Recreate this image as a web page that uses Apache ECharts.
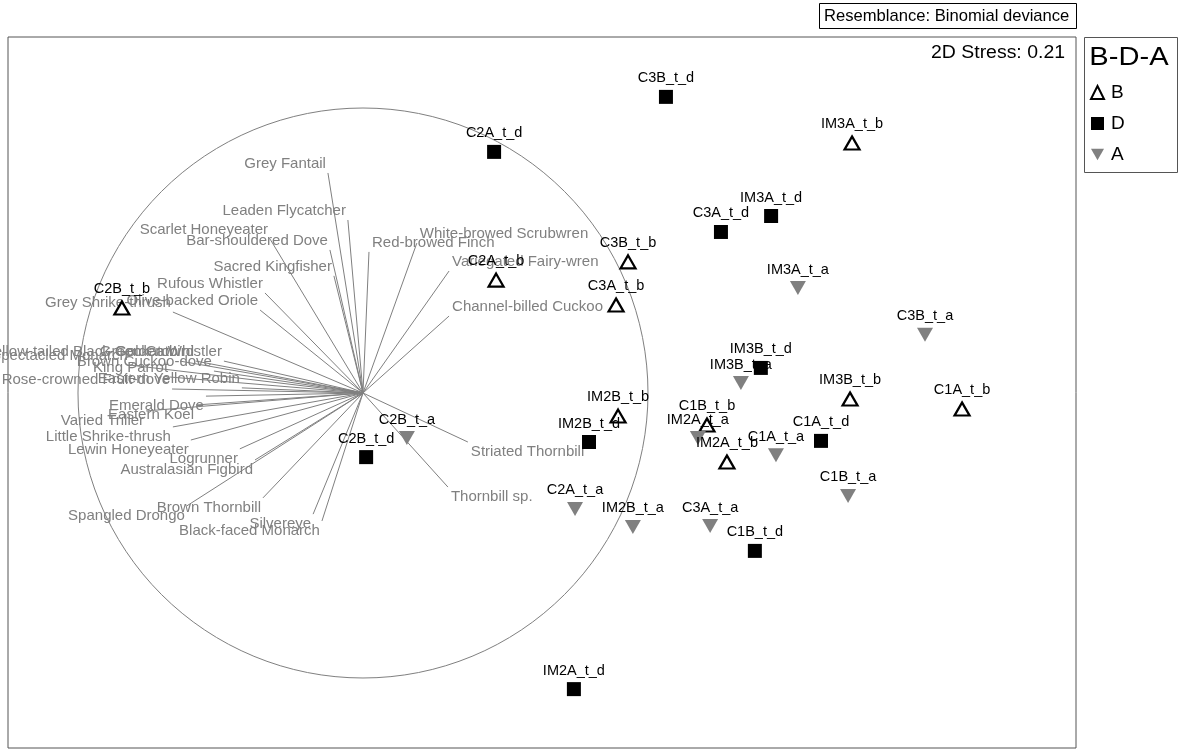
<!DOCTYPE html>
<html><head><meta charset="utf-8">
<script src="https://cdn.jsdelivr.net/npm/echarts@6/dist/echarts.min.js"></script>
<style>html,body{margin:0;padding:0;background:#fff}#c{width:1185px;height:749px}</style>
</head><body><div id="c"></div>
<script>
// ---- Samples, group B (open triangles)
const bNames = ['C2B_t_b','C2A_t_b','C3B_t_b','C3A_t_b','IM3A_t_b','IM2B_t_b','C1B_t_b','IM2A_t_b','IM3B_t_b','C1A_t_b'];
const bX = [-0.846, 0.467, 0.930, 0.888, 1.716, 0.895, 1.207, 1.277, 1.709, 2.102];
const bY = [ 0.298, 0.396, 0.460, 0.309, 0.877,-0.081,-0.112,-0.242,-0.021,-0.056];
// ---- Samples, group D (filled squares)
const dNames = ['C3B_t_d','C2A_t_d','IM3A_t_d','C3A_t_d','IM3B_t_d','IM2B_t_d','C2B_t_d','C1A_t_d','C1B_t_d','IM2A_t_d'];
const dX = [1.063, 0.460, 1.432, 1.256, 1.396, 0.793, 0.011, 1.607, 1.375, 0.740];
const dY = [1.039, 0.846, 0.621, 0.565, 0.088,-0.172,-0.225,-0.168,-0.554,-1.039];
// ---- Samples, group A (grey inverted triangles)
const aNames = ['C2B_t_a','IM3A_t_a','C3B_t_a','IM3B_t_a','IM2A_t_a','C1A_t_a','C1B_t_a','C2A_t_a','IM2B_t_a','C3A_t_a'];
const aX = [0.154, 1.526, 1.972, 1.326, 1.175, 1.449, 1.702, 0.744, 0.947, 1.218];
const aY = [-0.158, 0.368, 0.204, 0.035,-0.158,-0.218,-0.361,-0.407,-0.470,-0.467];
// ---- Species vectors (correlations)
const vecNames = ['Grey Fantail','Leaden Flycatcher','Scarlet Honeyeater','Bar-shouldered Dove','Sacred Kingfisher',
  'Red-browed Finch','White-browed Scrubwren','Variegated Fairy-wren','Channel-billed Cuckoo','Rufous Whistler',
  'Olive-backed Oriole','Grey Shrike-thrush','Yellow-tailed Black-Cockatoo','Green Catbird','Golden Whistler',
  'Spectacled Monarch','Brown Cuckoo-dove','King Parrot','Rose-crowned Fruit-dove','Eastern Yellow Robin',
  'Emerald Dove','Eastern Koel','Varied Triller','Little Shrike-thrush','Lewin Honeyeater','Logrunner',
  'Australasian Figbird','Brown Thornbill','Spangled Drongo','Silvereye','Black-faced Monarch',
  'Striated Thornbill','Thornbill sp.'];
const vecX = [-0.123,-0.053,-0.326,-0.116,-0.102, 0.021, 0.189, 0.302, 0.302,-0.344,
  -0.361,-0.667,-0.642,-0.586,-0.488,-0.818,-0.523,-0.677,-0.670,-0.425,
  -0.551,-0.586,-0.761,-0.667,-0.604,-0.432,-0.379,-0.351,-0.618,-0.175,-0.144,
   0.368, 0.298];
const vecY = [ 0.772, 0.607, 0.540, 0.502, 0.411, 0.495, 0.526, 0.428, 0.270, 0.351,
   0.291, 0.284, 0.112, 0.112, 0.112, 0.098, 0.077, 0.056, 0.014, 0.018,
  -0.011,-0.042,-0.063,-0.119,-0.165,-0.196,-0.235,-0.368,-0.396,-0.425,-0.449,
  -0.172,-0.330];
const legendTitle = 'B-D-A';
const stressText = '2D Stress: 0.21';
const resemblanceText = 'Resemblance: Binomial deviance';

const FONT = '"Liberation Sans", Arial, sans-serif';
const chart = echarts.init(document.getElementById('c'));

function pts(names, xs, ys){ return names.map((n,i)=>({name:n, value:[xs[i], ys[i]]})); }
const sampleLabel = {show:true, position:'top', distance:4, formatter:'{b}', color:'#000', fontSize:14.5, fontFamily:FONT};
const INV_TRI = 'path://M0,0L16,0L8,14Z';

const option = {
  animation:false,
  backgroundColor:'#fff',
  grid:{left:8, top:37, right:109, bottom:1, show:true, borderColor:'#555', borderWidth:1, backgroundColor:'transparent'},
  xAxis:{type:'value', min:-1.2456, max:2.5018, show:false, splitLine:{show:false}},
  yAxis:{type:'value', min:-1.2456, max:1.2491, show:false, splitLine:{show:false}},
  legend:{
    data:['B','D','A'], orient:'vertical', left:1085, top:78, itemGap:12, itemWidth:13, itemHeight:13,
    textStyle:{fontSize:19, fontFamily:FONT, color:'#000', padding:[0,0,0,2]}, selectedMode:false
  },
  graphic:[
    {type:'rect', shape:{x:819.5, y:3.5, width:257, height:25}, style:{fill:'#fff', stroke:'#000', lineWidth:1}},
    {type:'text', x:824, y:16, style:{text:resemblanceText, font:'16.6px '+FONT, fill:'#000', verticalAlign:'middle'}},
    {type:'text', x:1065, y:53, scaleX:1.08,
     style:{text:stressText, font:'18px '+FONT, fill:'#000', align:'right', verticalAlign:'middle'}},
    {type:'rect', shape:{x:1084.5, y:37.5, width:93, height:135}, style:{fill:'none', stroke:'#555', lineWidth:1}},
    {type:'text', x:1129, y:58, scaleX:1.12,
     style:{text:legendTitle, font:'26px '+FONT, fill:'#000', align:'center', verticalAlign:'middle'}}
  ],
  series:[
    {
      type:'custom', name:'circle', silent:true, z:1, clip:false,
      data:[[0,0]],
      renderItem:function(params, api){
        const c = api.coord([0,0]);
        const r = api.size([1,1])[0];
        return {type:'circle', shape:{cx:c[0], cy:c[1], r:r}, style:{fill:'none', stroke:'#808080', lineWidth:1}};
      }
    },
    {
      type:'custom', name:'vectors', silent:true, z:2, clip:false,
      data:vecNames.map((n,i)=>[vecX[i], vecY[i], n]),
      renderItem:function(params, api){
        const vx = api.value(0), vy = api.value(1);
        const o = api.coord([0,0]);
        const p = api.coord([vx, vy]);
        const name = vecNames[params.dataIndex];
        const left = vx < 0;
        const up = vy >= 0;
        return {type:'group', children:[
          {type:'line', shape:{x1:o[0], y1:o[1], x2:p[0], y2:p[1]}, style:{stroke:'#808080', lineWidth:1}},
          {type:'text', x:p[0] + (left?-2:3), y:p[1] + (up?-2:2),
           style:{text:name, fill:'#808080', font:'15px '+FONT, align:left?'right':'left', verticalAlign:up?'bottom':'top'}}
        ]};
      }
    },
    {
      type:'scatter', name:'B', z:4, symbol:'triangle', symbolSize:[15,13],
      itemStyle:{color:'#fff', borderColor:'#000', borderWidth:2.2, opacity:1},
      label:sampleLabel, data:pts(bNames,bX,bY)
    },
    {
      type:'scatter', name:'D', z:4, symbol:'rect', symbolSize:14,
      itemStyle:{color:'#000', opacity:1},
      label:sampleLabel, data:pts(dNames,dX,dY)
    },
    {
      type:'scatter', name:'A', z:4, symbol:INV_TRI, symbolSize:[16,14],
      itemStyle:{color:'#808080', opacity:1},
      label:sampleLabel, data:pts(aNames,aX,aY)
    }
  ]
};
chart.setOption(option);
</script></body></html>
